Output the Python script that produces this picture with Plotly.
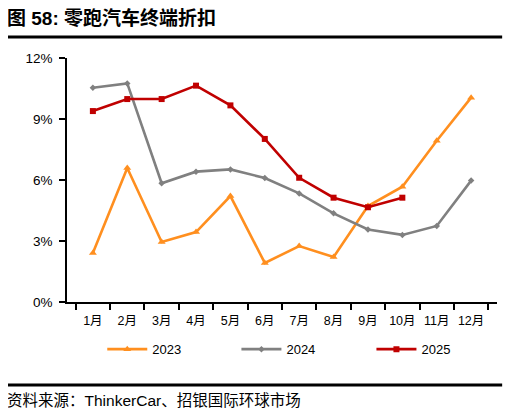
import plotly.graph_objects as go

# months and discount rates (%)
months = ['1月', '2月', '3月', '4月', '5月', '6月', '7月', '8月', '9月', '10月', '11月', '12月']
disc_2023 = [2.41, 6.59, 2.95, 3.44, 5.21, 1.92, 2.75, 2.21, 4.72, 5.67, 7.93, 10.05]
disc_2024 = [10.54, 10.75, 5.84, 6.41, 6.52, 6.10, 5.34, 4.36, 3.57, 3.30, 3.74, 5.97]
disc_2025 = [9.39, 9.98, 9.98, 10.64, 9.67, 8.02, 6.11, 5.13, 4.66, 5.13]

cjk = "Liberation Sans, Noto Sans CJK SC"

fig = go.Figure()

# one trace per year, each with its own legend box so they sit in one row
series = [
    ('2023', disc_2023, '#FF8F1F', 'triangle-up', 7, 'legend', 0.082),
    ('2024', disc_2024, '#808080', 'diamond', 5, 'legend2', 0.394),
    ('2025', disc_2025, '#C00000', 'square', 6, 'legend3', 0.708),
]
legends = {}
for name, vals, color, symbol, size, leg, lx in series:
    fig.add_trace(go.Scatter(
        x=months[:len(vals)], y=[v / 100 for v in vals],
        mode='lines+markers', name=name, legend=leg,
        line=dict(color=color, width=2.6),
        marker=dict(symbol=symbol, size=size, color=color),
    ))
    legends[leg] = dict(orientation='h', x=lx, xanchor='left', y=-0.132, yanchor='top',
                        font=dict(size=13, color='#000000'), itemwidth=40,
                        bgcolor='rgba(0,0,0,0)')

# the page body adds an 8px offset, so margins are shifted to compensate
fig.update_layout(
    width=513, height=417,
    margin=dict(l=59, r=24, t=50, b=123),
    plot_bgcolor='white', paper_bgcolor='white',
    font=dict(family=cjk, size=13, color='#000000'),
    showlegend=True,
    **legends,
)

fig.update_xaxes(
    type='category', categoryarray=months, showline=True, linecolor='black', linewidth=1.5,
    ticks='outside', tickson='boundaries', ticklen=6, tickcolor='black', tickwidth=1.5,
    showgrid=False, tickangle=0, automargin=False, ticklabelstandoff=6,
    tickfont=dict(size=12.5, family=cjk),
)
fig.update_yaxes(
    range=[0, 0.12], dtick=0.03, tickformat='.0%', showline=True, linecolor='black',
    linewidth=1.5, ticks='outside', ticklen=6, tickcolor='black', tickwidth=1.5,
    showgrid=False, zeroline=False, automargin=False, ticklabelstandoff=4,
    tickfont=dict(size=13.5),
)

# title, rules and source note
fig.add_annotation(text='<b>图 58: 零跑汽车终端折扣</b>', xref='paper', yref='paper',
                   x=-0.144, y=1.165, xanchor='left', yanchor='middle', showarrow=False,
                   font=dict(size=19, family="Liberation Sans, Noto Sans CJK SC"))
fig.add_shape(type='line', xref='paper', yref='paper', x0=-0.146, x1=1.012, y0=1.086, y1=1.086,
              line=dict(color='black', width=3))
fig.add_shape(type='line', xref='paper', yref='paper', x0=-0.146, x1=1.012, y0=-0.34, y1=-0.34,
              line=dict(color='black', width=3))
fig.add_annotation(text='资料来源：ThinkerCar、招银国际环球市场', xref='paper', yref='paper',
                   x=-0.144, y=-0.405, xanchor='left', yanchor='middle', showarrow=False,
                   font=dict(size=15.5, family=cjk))

fig.write_html("out.html")
